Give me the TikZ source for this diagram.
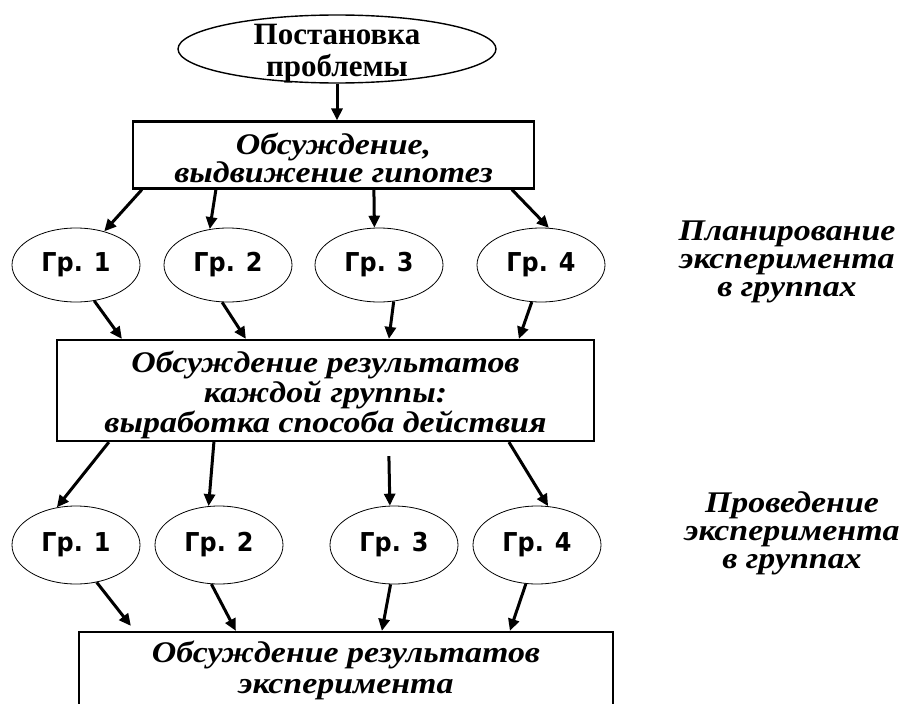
\documentclass[tikz,border=0pt]{standalone}
\usepackage{fontspec}
\setmainfont{Liberation Serif}
\newfontfamily\titfont{Liberation Serif}
\newfontfamily\grfont{DejaVu Sans}[FakeStretch=0.92]
\newfontfamily\itfont{Liberation Serif}[FakeStretch=1.13]
\usetikzlibrary{shapes.geometric,arrows.meta,calc}
\begin{document}
\begin{tikzpicture}[x=1pt,y=-1pt,
  box/.style={draw,line width=2.2pt,rectangle,inner sep=0pt},
  itx/.style={align=center,inner sep=0pt,font=\itfont\bfseries\itshape\fontsize{30}{#1}\selectfont},
  grp/.style={draw,line width=0.8pt,ellipse,inner sep=0pt,minimum width=128pt,
    font=\grfont\bfseries\fontsize{26}{28}\selectfont},
  topell/.style={draw,line width=1.4pt,ellipse,inner sep=0pt,
    minimum width=318pt,minimum height=68pt},
  titx/.style={align=center,inner sep=0pt,font=\titfont\bfseries\fontsize{31}{32}\selectfont},
  arr/.style={line width=3pt,-{Triangle[length=12pt,width=11pt]}}]
\useasboundingbox (0,0) rectangle (908,704);
\clip (0,0) rectangle (908,704);

% top ellipse
\node[topell] (top) at (337,49) {};
\node[titx] (topt) at (337,54) {Постановка\\проблемы};
% box 1
\node[box,minimum width=401pt,minimum height=67pt] (b1) at (333.5,155) {};
\node[itx=26] (b1t) at (333.5,158) {Обсуждение,\\выдвижение гипотез};
% row 1
\node[grp,minimum height=74pt] (g1) at (76,265) {Гр. 1};
\node[grp,minimum height=74pt] (g2) at (228,265) {Гр. 2};
\node[grp,minimum height=74pt] (g3) at (379,265) {Гр. 3};
\node[grp,minimum height=74pt] (g4) at (541,265) {Гр. 4};
% box 2
\node[box,minimum width=537pt,minimum height=101pt] (b2) at (325.5,390.5) {};
\node[itx=30] (b2t) at (325.5,395) {Обсуждение результатов\\каждой группы:\\выработка способа действия};
% row 2
\node[grp,minimum height=78pt] (h1) at (76,545) {Гр. 1};
\node[grp,minimum height=78pt] (h2) at (219,545) {Гр. 2};
\node[grp,minimum height=78pt] (h3) at (394,545) {Гр. 3};
\node[grp,minimum height=78pt] (h4) at (537,545) {Гр. 4};
% box 3
\node[box,minimum width=534pt,minimum height=76pt] (b3) at (346,670) {};
\node[itx=31] (b3t) at (346,670) {Обсуждение результатов\\эксперимента};
% side labels
\node[itx=28] (s1) at (787,262) {Планирование\\эксперимента\\в группах};
\node[itx=28] (s2) at (792,533) {Проведение\\эксперимента\\в группах};

% arrows
\draw[arr] (top.south) -- (top.south |- b1.north);

\draw[arr] ([xshift=10pt]b1.south west) -- (g1.50);
\draw[arr] ([xshift=84pt]b1.south west) -- (g2.117);
\draw[arr] ([xshift=242pt]b1.south west) -- (g3.97);
\draw[arr] ([xshift=380pt]b1.south west) -- (g4.78);

\draw[arr] (g1.-63) -- ([xshift=66pt]b2.north west);
\draw[arr] (g2.-99) -- ([xshift=190pt]b2.north west);
\draw[arr] (g3.-68) -- ([xshift=333pt]b2.north west);
\draw[arr] (g4.-104) -- ([xshift=463pt]b2.north west);

\draw[arr] ([xshift=53pt]b2.south west) -- (h1.117);
\draw[arr] ([xshift=158pt]b2.south west) -- (h2.105);
\draw[arr] ([xshift=333pt,yshift=-14pt]b2.south west) -- (h3.96);
\draw[arr] ([xshift=453pt]b2.south west) -- (h4.74);

\draw[arr] (h1.-61) -- ([xshift=53pt,yshift=5pt]b3.north west);
\draw[arr] (h2.-101) -- ([xshift=158pt]b3.north west);
\draw[arr] (h3.-95) -- ([xshift=304pt]b3.north west);
\draw[arr] (h4.-106) -- ([xshift=432pt]b3.north west);
\end{tikzpicture}
\end{document}
